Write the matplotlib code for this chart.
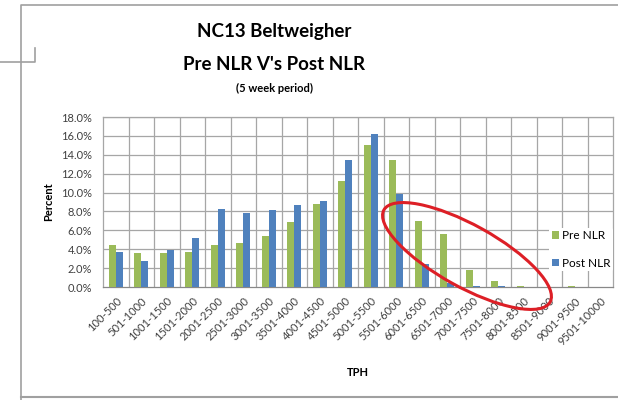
import numpy as np
import matplotlib.pyplot as plt
from matplotlib.patches import Ellipse

plt.rcParams['font.family'] = ['Lato', 'DejaVu Sans']

# TPH 区间
categories = ["100-500", "501-1000", "1001-1500", "1501-2000", "2001-2500",
              "2501-3000", "3001-3500", "3501-4000", "4001-4500", "4501-5000",
              "5001-5500", "5501-6000", "6001-6500", "6501-7000", "7001-7500",
              "7501-8000", "8001-8500", "8501-9000", "9001-9500", "9501-10000"]
# 百分比 (%)
pre_nlr = [4.45, 3.55, 3.55, 3.75, 4.45, 4.7, 5.4, 6.9, 8.75, 11.2,
           15.0, 13.4, 7.0, 5.6, 1.75, 0.6, 0.12, 0.02, 0.1, 0.0]
post_nlr = [3.75, 2.8, 3.9, 5.15, 8.25, 7.85, 8.2, 8.65, 9.1, 13.4,
            16.15, 9.8, 2.45, 0.45, 0.12, 0.12, 0.03, 0.0, 0.0, 0.0]

green = '#9bbb59'
blue = '#4f81bd'

fig = plt.figure(figsize=(6.18, 4.0), dpi=100)
ax = fig.add_axes([103 / 618, 1 - 287 / 400, 510 / 618, 170 / 400])

x = np.arange(len(categories))
w = 0.275
ax.bar(x - w / 2, pre_nlr, w, color=green, label='Pre NLR', zorder=3)
ax.bar(x + w / 2, post_nlr, w, color=blue, label='Post NLR', zorder=3)

ax.set_xlim(-0.5, len(categories) - 0.5)
ax.set_ylim(0, 18)
ax.set_yticks(np.arange(0, 18.1, 2))
ax.set_yticklabels([f"{v:.1f}%" for v in np.arange(0, 18.1, 2)], fontsize=8, color='#404040')
ax.set_xticks(x)
ax.set_xticklabels(categories, rotation=45, ha='right', rotation_mode='anchor',
                   fontsize=8, color='#404040')
ax.tick_params(axis='y', length=0, pad=8)
ax.tick_params(axis='x', length=0, pad=6)

# 网格线：水平 + 类别之间的竖线
for v in np.arange(2, 18.1, 2):
    ax.axhline(v, color='#a6a6a6', lw=0.9, zorder=1)
for b in np.arange(0.5, len(categories) - 0.5, 1):
    ax.axvline(b, color='#a6a6a6', lw=0.9, zorder=1)
for s in ax.spines.values():
    s.set_color('#a6a6a6')
    s.set_linewidth(0.9)
ax.spines['bottom'].set_color('#888888')

ax.set_ylabel("Percent", fontsize=8, fontweight='bold', labelpad=5)
ax.set_xlabel("TPH", fontsize=8, fontweight='bold', labelpad=14)

leg = ax.legend(loc='center right', bbox_to_anchor=(1.012, 0.22), frameon=True,
                fontsize=8.5, handlelength=0.6, handleheight=0.6, handletextpad=0.3,
                labelspacing=1.4, borderpad=0.2)
leg.get_frame().set_edgecolor('none')
leg.get_frame().set_facecolor('white')
leg.get_frame().set_alpha(1)
leg.set_zorder(5)

fig.text(274 / 618, 1 - 31 / 400, "NC13 Beltweigher", ha='center', va='center',
         fontsize=13.5, fontweight='bold')
fig.text(274 / 618, 1 - 64 / 400, "Pre NLR V's Post NLR", ha='center', va='center',
         fontsize=13.5, fontweight='bold')
fig.text(274 / 618, 1 - 88 / 400, "(5 week period)", ha='center', va='center',
         fontsize=8, fontweight='bold')

# 外框和红色椭圆（像素坐标覆盖层）
ov = fig.add_axes([0, 0, 1, 1], zorder=10)
ov.set_xlim(0, 618)
ov.set_ylim(400, 0)
ov.axis('off')
ov.patch.set_alpha(0)
ov.plot([21, 21, 618], [400, 5, 5], color='#a0a0a0', lw=1.2)
ov.plot([21, 618], [397, 397], color='#a0a0a0', lw=1.5)
ov.plot([0, 35, 35], [62, 62, 48], color='#a0a0a0', lw=1.2)
ov.add_patch(Ellipse((467, 256), 190, 62, angle=29, fill=False,
                     edgecolor='#dd1f26', lw=2.2))

fig.savefig("out.png", dpi=100)
